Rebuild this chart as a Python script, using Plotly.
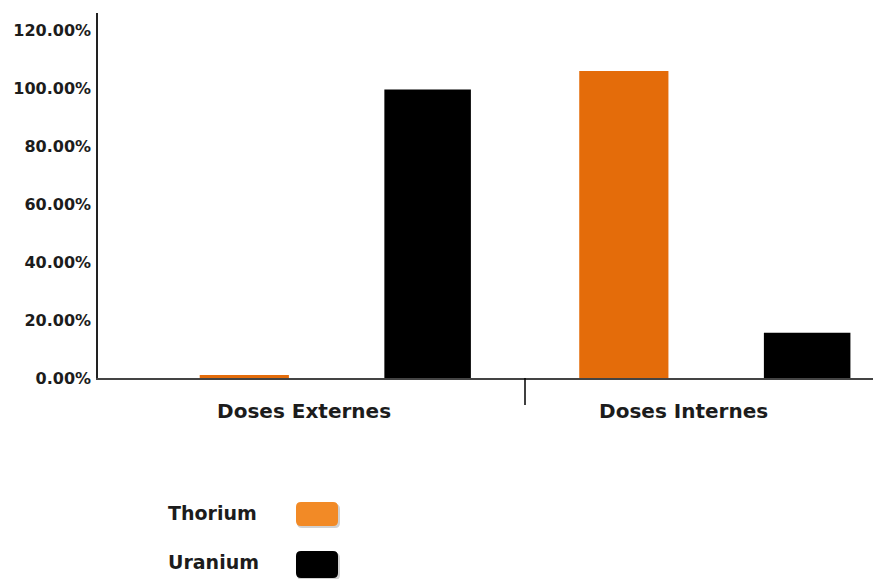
import plotly.graph_objects as go

# Chart data
categories = ["Doses Externes", "Doses Internes"]
series_names = ["Thorium", "Uranium"]
thorium = [1.0, 106.0]
uranium = [99.6, 15.6]
y_ticks = [0, 20, 40, 60, 80, 100, 120]
y_tick_text = ["%.2f%%" % v for v in y_ticks]

# Styling
bar_colors = ["#E46C0A", "#000000"]
swatch_colors = ["#F28A26", "#000000"]
FONT = "DejaVu Sans"
TEXT = "#1c1c1c"

W, H = 885, 579
M_L, M_R, M_T, M_B = 98, 12, 13, 201
PLOT_W = W - M_L - M_R
PLOT_H = H - M_T - M_B


def to_paper(px, py):
    """Convert page pixels to paper coordinates."""
    return (px - M_L) / PLOT_W, (H - M_B - py) / PLOT_H


def rounded_rect(x0, y0, x1, y1, r):
    pts = [
        ("M", [(x0 + r, y0)]),
        ("L", [(x1 - r, y0)]),
        ("Q", [(x1, y0), (x1, y0 + r)]),
        ("L", [(x1, y1 - r)]),
        ("Q", [(x1, y1), (x1 - r, y1)]),
        ("L", [(x0 + r, y1)]),
        ("Q", [(x0, y1), (x0, y1 - r)]),
        ("L", [(x0, y0 + r)]),
        ("Q", [(x0, y0), (x0 + r, y0)]),
    ]
    parts = []
    for cmd, coords in pts:
        s = " ".join("%.5f,%.5f" % to_paper(x, y) for x, y in coords)
        parts.append(cmd + " " + s)
    return " ".join(parts) + " Z"


fig = go.Figure()
fig.add_trace(go.Bar(
    x=categories, y=thorium, name=series_names[0],
    marker=dict(color=bar_colors[0], line=dict(width=0)),
    offset=-0.275, width=0.235,
))
fig.add_trace(go.Bar(
    x=categories, y=uranium, name=series_names[1],
    marker=dict(color=bar_colors[1], line=dict(width=0)),
    offset=0.2115, width=0.228,
))

shapes = []
# divider between the two categories
dx, _ = to_paper(525, 0)
_, dy = to_paper(0, 405)
shapes.append(dict(type="line", xref="paper", yref="paper",
                   x0=dx, x1=dx, y0=0, y1=dy,
                   line=dict(color="#000000", width=1.5)))

# legend swatches (text on the left, rounded boxes on the right)
legend_rows = [(502, 526), (551, 578)]
legend_text_y = [513, 562]
annotations = []
for name, col, (ya, yb), ty in zip(series_names, swatch_colors, legend_rows, legend_text_y):
    shapes.append(dict(type="path", xref="paper", yref="paper",
                       path=rounded_rect(297, ya + 2, 340, yb + 2, 5),
                       fillcolor="rgba(0,0,0,0.18)", line=dict(width=0), layer="above"))
    shapes.append(dict(type="path", xref="paper", yref="paper",
                       path=rounded_rect(296, ya, 338, yb, 5),
                       fillcolor=col, line=dict(width=0), layer="above"))
    ax, ay = to_paper(166, ty)
    annotations.append(dict(text="<b>%s</b>" % name, xref="paper", yref="paper",
                            x=ax, y=ay, xanchor="left", yanchor="middle",
                            showarrow=False,
                            font=dict(family=FONT, size=19, color=TEXT)))

fig.update_layout(
    width=W, height=H,
    margin=dict(l=M_L, r=M_R, t=M_T, b=M_B, pad=0),
    paper_bgcolor="white", plot_bgcolor="white",
    showlegend=False,
    barmode="group",
    shapes=shapes,
    annotations=annotations,
    xaxis=dict(
        type="category",
        range=[-0.543, 1.499],
        showgrid=False, zeroline=False,
        showline=True, linecolor="#444444", linewidth=1.5,
        ticks="outside", ticklen=14, tickcolor="rgba(0,0,0,0)",
        tickfont=dict(family=FONT, size=20, color=TEXT),
        tickprefix="<b>", ticksuffix="</b>",
    ),
    yaxis=dict(
        range=[0, 126],
        tickvals=y_ticks,
        ticktext=y_tick_text,
        showgrid=False, zeroline=False,
        showline=True, linecolor="#222222", linewidth=1.5,
        ticks="", ticklabelstandoff=2,
        tickfont=dict(family=FONT, size=16, color=TEXT, weight="bold"),
    ),
)

fig.write_html("out.html")
